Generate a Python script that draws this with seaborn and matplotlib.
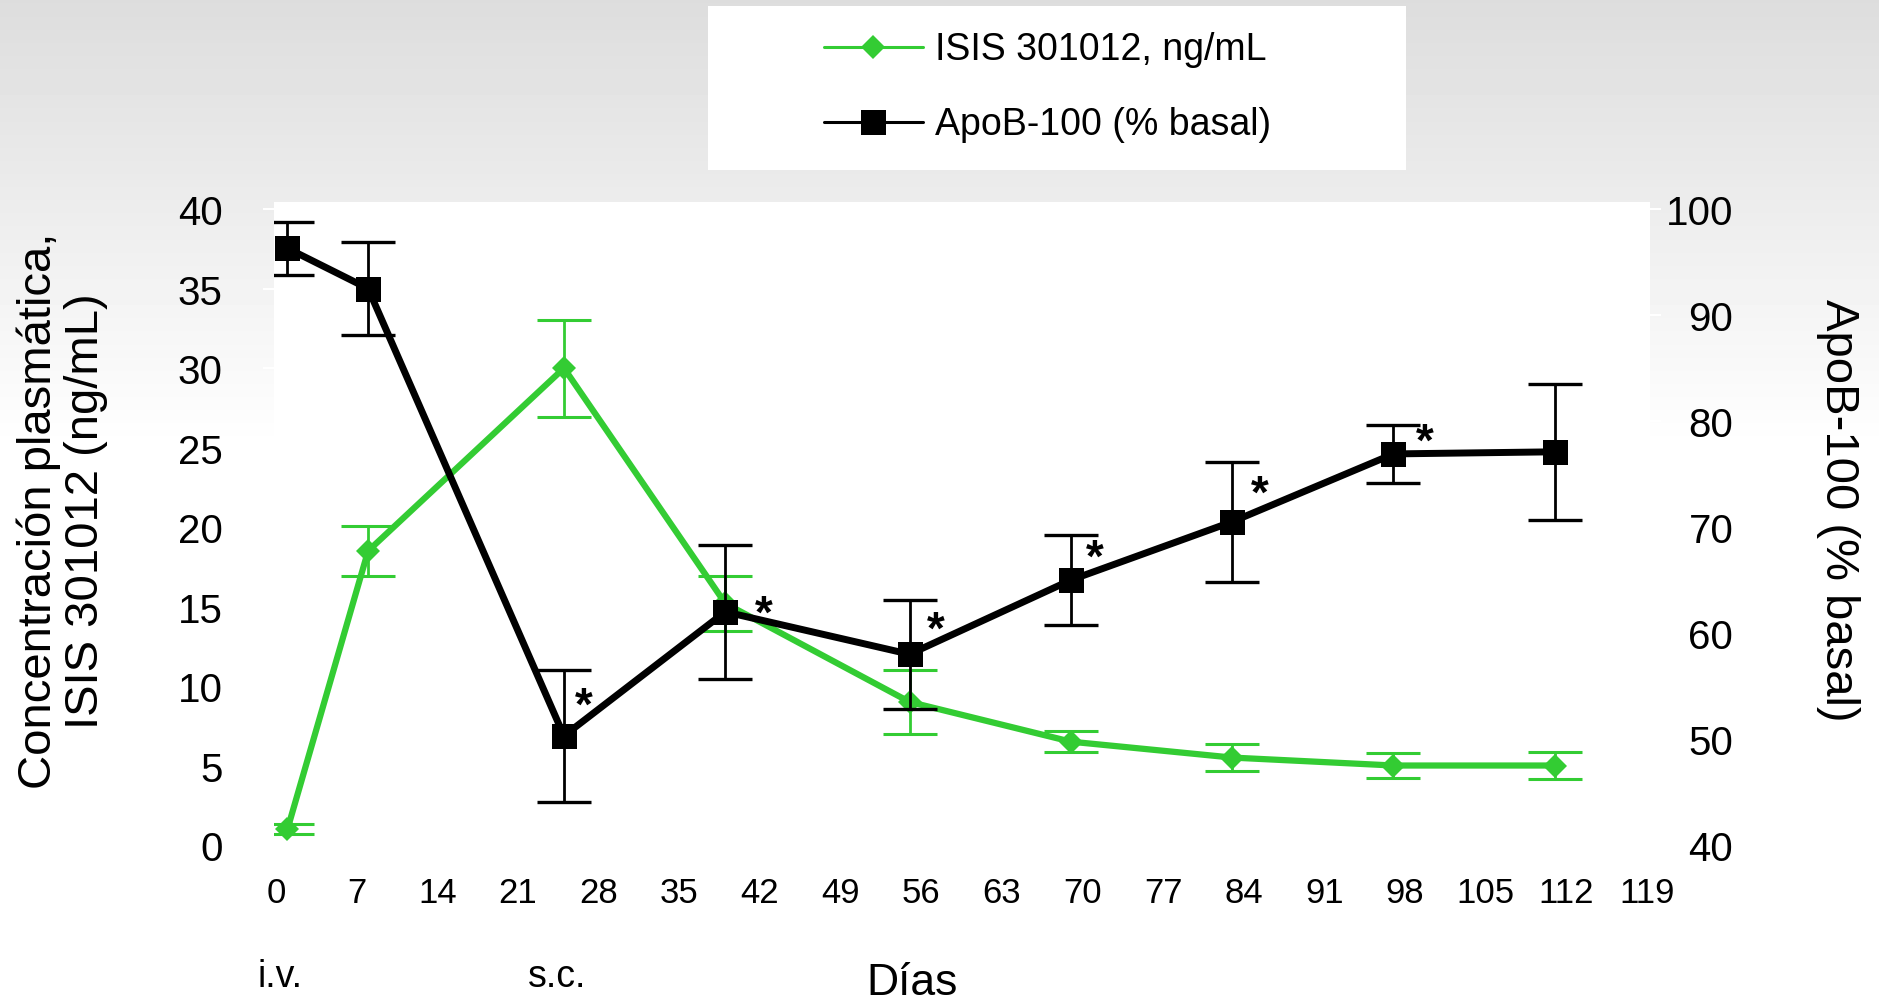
import numpy as np
import matplotlib
matplotlib.use("Agg")
import matplotlib.pyplot as plt
import seaborn as sns
from matplotlib.lines import Line2D
from matplotlib.patches import Rectangle

# ---- data -------------------------------------------------------------
days = [1, 8, 25, 39, 55, 69, 83, 97, 111]
isis_ng_ml = [1.0, 18.5, 30.0, 15.2, 9.0, 6.5, 5.5, 5.0, 5.0]
isis_err = [0.3, 1.55, 3.05, 1.75, 2.0, 0.65, 0.85, 0.8, 0.85]
apob_pct = [96.3, 92.5, 50.3, 62.0, 58.0, 65.0, 70.5, 76.9, 77.1]
apob_err = [2.5, 4.4, 6.2, 6.3, 5.15, 4.25, 5.65, 2.75, 6.4]
significant = [False, False, True, True, True, True, True, True, False]

x_ticks = list(range(0, 120, 7))
left_ticks = [0, 5, 10, 15, 20, 25, 30, 35, 40]
right_ticks = [40, 50, 60, 70, 80, 90, 100]

series_labels = ["ISIS 301012, ng/mL", "ApoB-100 (% basal)"]
left_title = "Concentración plasmática,\nISIS 301012 (ng/mL)"
right_title = "ApoB-100 (% basal)"
x_title = "Días"
route_labels = ["i.v.", "s.c."]

# ---- style ------------------------------------------------------------
GREEN = "#33cc33"
BLACK = "#000000"
sns.set_theme(style="white")
plt.rcParams["font.family"] = ["Liberation Sans", "DejaVu Sans"]
plt.rcParams["text.color"] = BLACK
plt.rcParams["axes.labelcolor"] = BLACK
plt.rcParams["xtick.color"] = BLACK
plt.rcParams["ytick.color"] = BLACK

W, H = 1879, 1004
fig = plt.figure(figsize=(W / 100, H / 100), dpi=100)

# soft grey gradient behind everything
bg = fig.add_axes([0, 0, 1, 1], zorder=-10)
rows = np.arange(H)
shade = np.clip(0.866 + (1 - 0.866) * rows / 450.0, 0, 1)
grad = np.repeat(shade[:, None], 2, axis=1)
bg.imshow(grad, cmap="gray", vmin=0, vmax=1, aspect="auto",
          extent=[0, 1, 0, 1], origin="upper")
bg.set_axis_off()

def fx(px):
    return px / W

def fy(py):
    return 1 - py / H

ax = fig.add_axes([fx(274), fy(846), fx(1650) - fx(274), fy(203) - fy(846)])
ax.set_facecolor("white")
ax2 = ax.twinx()
ax2.patch.set_visible(False)

# plasma concentration (left axis)
ax.errorbar(days, isis_ng_ml, yerr=isis_err, fmt="none", ecolor=GREEN,
            elinewidth=2.0, capsize=19.5, capthick=2.2, zorder=2)
sns.lineplot(x=days, y=isis_ng_ml, ax=ax, color=GREEN, marker="D",
             markersize=12.5, markeredgewidth=0, linewidth=4.5,
             errorbar=None, zorder=3)

# ApoB-100 (right axis)
ax2.errorbar(days, apob_pct, yerr=apob_err, fmt="none", ecolor=BLACK,
             elinewidth=2.0, capsize=19.5, capthick=2.4, zorder=2)
sns.lineplot(x=days, y=apob_pct, ax=ax2, color=BLACK, marker="s",
             markersize=18, markeredgewidth=0, linewidth=5,
             errorbar=None, zorder=3)

# significance marks, offset up-right of each point (points)
star_offsets = [(0, 0), (0, 0), (14.4, 27.4), (28, 4.3), (18.7, 23),
                (17.3, 21.6), (20, 26), (22.3, 14.4), (0, 0)]
star_size = 33
for d, v, sig, off in zip(days, apob_pct, significant, star_offsets):
    if sig:
        ax2.annotate("*", (d, v), xytext=(off[0], off[1] - 0.45 * star_size),
                     textcoords="offset points", ha="center", va="baseline",
                     fontsize=star_size, fontweight="bold", color=BLACK)

# axes
ax.set_xlim(-0.17, 119.27)
ax.set_ylim(0, 40.45)
ax2.set_ylim(40, 100.67)
ax.set_xticks(x_ticks)
ax.set_xticklabels([str(t) for t in x_ticks])
ax.set_yticks(left_ticks)
ax2.set_yticks(right_ticks)
ax.set_xlabel("")
ax.set_ylabel("")
ax2.set_ylabel("")
for a in (ax, ax2):
    for s in a.spines.values():
        s.set_visible(False)
ax.tick_params(axis="x", length=0, pad=22, labelsize=25, labelcolor=BLACK)
ax.tick_params(axis="y", left=True, length=8, width=1.5, color="white",
               pad=29, labelsize=29, labelcolor=BLACK)
ax2.tick_params(axis="y", right=True, length=8, width=1.5, color="white",
                pad=52, labelsize=29, labelcolor=BLACK)
plt.setp(ax2.get_yticklabels(), ha="right")

# axis titles and route annotations
fig.text(fx(62), fy(511), left_title, rotation=90, ha="center", va="center",
         fontsize=34, linespacing=1.1, color=BLACK)
fig.text(fx(1838), fy(510), right_title, rotation=270, ha="center",
         va="center", fontsize=34, color=BLACK)
fig.text(fx(912), fy(995), x_title, ha="center", va="baseline", fontsize=32,
         color=BLACK)
fig.text(fx(257), fy(987), route_labels[0], ha="left", va="baseline",
         fontsize=27, color=BLACK)
fig.text(fx(528), fy(987), route_labels[1], ha="left", va="baseline",
         fontsize=27, color=BLACK)

# legend box
fig.add_artist(Rectangle((fx(708), fy(171)), fx(1406) - fx(708),
                         fy(7) - fy(171), transform=fig.transFigure,
                         facecolor="white", edgecolor="none", zorder=1))
legend_rows = [(series_labels[0], GREEN, "D", 12.5, 48),
               (series_labels[1], BLACK, "s", 18, 123)]
for label, col, mk, ms, py in legend_rows:
    fig.add_artist(Line2D([fx(824), fx(873), fx(923)], [fy(py)] * 3,
                          transform=fig.transFigure, color=col, lw=2.2,
                          marker=mk, markersize=ms, markevery=[1],
                          markeredgewidth=0, zorder=2))
    fig.text(fx(935), fy(py + 2), label, ha="left", va="center",
             fontsize=27, zorder=3, color=BLACK)

fig.savefig("out.png", dpi=100)
